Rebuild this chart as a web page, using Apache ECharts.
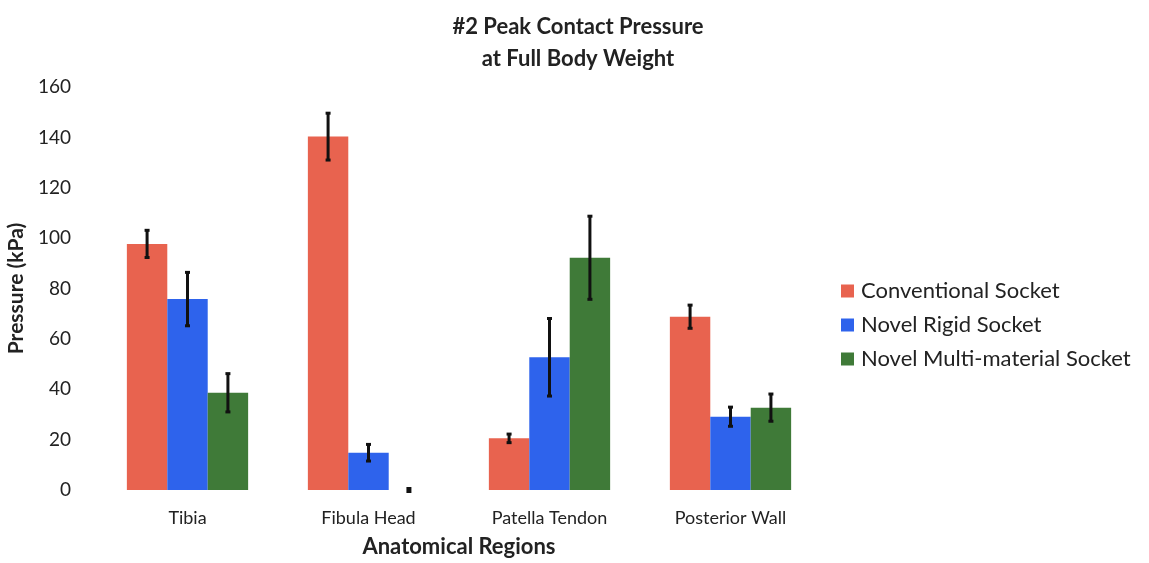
<!DOCTYPE html>
<html>
<head>
<meta charset="utf-8">
<script src="https://cdn.jsdelivr.net/npm/echarts@6/dist/echarts.min.js"></script>
<style>html,body{margin:0;padding:0;background:#fff}#c{width:1149px;height:563px}</style>
</head>
<body>
<div id="c"></div>
<script>
var categories = ['Tibia', 'Fibula Head', 'Patella Tendon', 'Posterior Wall'];
var seriesNames = ['Conventional Socket', 'Novel Rigid Socket', 'Novel Multi-material Socket'];
var conventional = [97.7, 140.3, 20.5, 68.8];
var conventionalErr = [5.4, 9.3, 1.7, 4.6];
var rigid = [75.8, 14.8, 52.7, 29.1];
var rigidErr = [10.6, 3.3, 15.4, 3.8];
var multi = [38.6, 0, 92.2, 32.7];
var multiErr = [7.6, 0.6, 16.5, 5.4];
var yTicks = [0, 20, 40, 60, 80, 100, 120, 140, 160];

var colors = ['#E8634F', '#2E63EC', '#3F7A38'];
var values = [conventional, rigid, multi];
var errs = [conventionalErr, rigidErr, multiErr];
var FONT = 'Lato';
var groupFrac = 0.67;

function errSeries(k) {
  var data = categories.map(function (c, i) {
    return [i, values[k][i] - errs[k][i], values[k][i] + errs[k][i]];
  });
  return {
    type: 'custom',
    name: seriesNames[k] + ' err',
    z: 10,
    silent: true,
    data: data,
    renderItem: function (params, api) {
      var idx = api.value(0);
      var lo = api.coord([idx, api.value(1)]);
      var hi = api.coord([idx, api.value(2)]);
      var band = api.size([1, 0])[0];
      var bw = band * groupFrac / 3;
      var x = lo[0] + (k - 1) * bw;
      var cap = 2.5;
      var st = { stroke: '#111', lineWidth: 3 };
      return {
        type: 'group',
        children: [
          { type: 'line', shape: { x1: x, y1: lo[1], x2: x, y2: hi[1] }, style: st },
          { type: 'line', shape: { x1: x - cap, y1: lo[1], x2: x + cap, y2: lo[1] }, style: st },
          { type: 'line', shape: { x1: x - cap, y1: hi[1], x2: x + cap, y2: hi[1] }, style: st }
        ]
      };
    }
  };
}

var series = [];
for (var k = 0; k < 3; k++) {
  series.push({
    type: 'bar',
    name: seriesNames[k],
    data: values[k],
    barGap: '0%',
    barCategoryGap: '33%',
    itemStyle: { color: colors[k] }
  });
}
for (var k2 = 0; k2 < 3; k2++) series.push(errSeries(k2));

var chart = echarts.init(document.getElementById('c'), null, { renderer: 'canvas' });
chart.setOption({
  animation: false,
  backgroundColor: '#fff',
  textStyle: { fontFamily: FONT },
  title: {
    text: '#2 Peak Contact Pressure\nat Full Body Weight',
    left: 573,
    textAlign: 'center',
    top: 6,
    textStyle: { fontFamily: FONT, fontWeight: 'bold', fontSize: 22, color: '#222', lineHeight: 32 }
  },
  legend: {
    orient: 'vertical',
    left: 836,
    top: 275,
    itemWidth: 13,
    itemHeight: 13,
    itemGap: 12,
    icon: 'rect',
    data: seriesNames,
    textStyle: { fontFamily: FONT, fontSize: 22, color: '#222', padding: [0, 0, 0, 2] }
  },
  grid: { left: 97, right: 328, top: 87, bottom: 73, containLabel: false, outerBoundsMode: 'none' },
  xAxis: {
    type: 'category',
    data: categories,
    name: 'Anatomical Regions',
    nameLocation: 'middle',
    nameGap: 46,
    nameTextStyle: { fontFamily: FONT, fontWeight: 'bold', fontSize: 22, color: '#222' },
    axisLine: { show: false },
    axisTick: { show: false },
    axisLabel: { fontFamily: FONT, fontSize: 18, color: '#222', margin: 19 }
  },
  yAxis: {
    type: 'value',
    min: yTicks[0],
    max: yTicks[yTicks.length - 1],
    interval: yTicks[1] - yTicks[0],
    name: 'Pressure (kPa)',
    nameLocation: 'middle',
    nameGap: 68,
    nameTextStyle: { fontFamily: FONT, fontWeight: 'bold', fontSize: 21, color: '#222' },
    axisLine: { show: false },
    axisTick: { show: false },
    splitLine: { show: false },
    axisLabel: { fontFamily: FONT, fontSize: 19, color: '#222', margin: 26 }
  },
  series: series
});
</script>
</body>
</html>
